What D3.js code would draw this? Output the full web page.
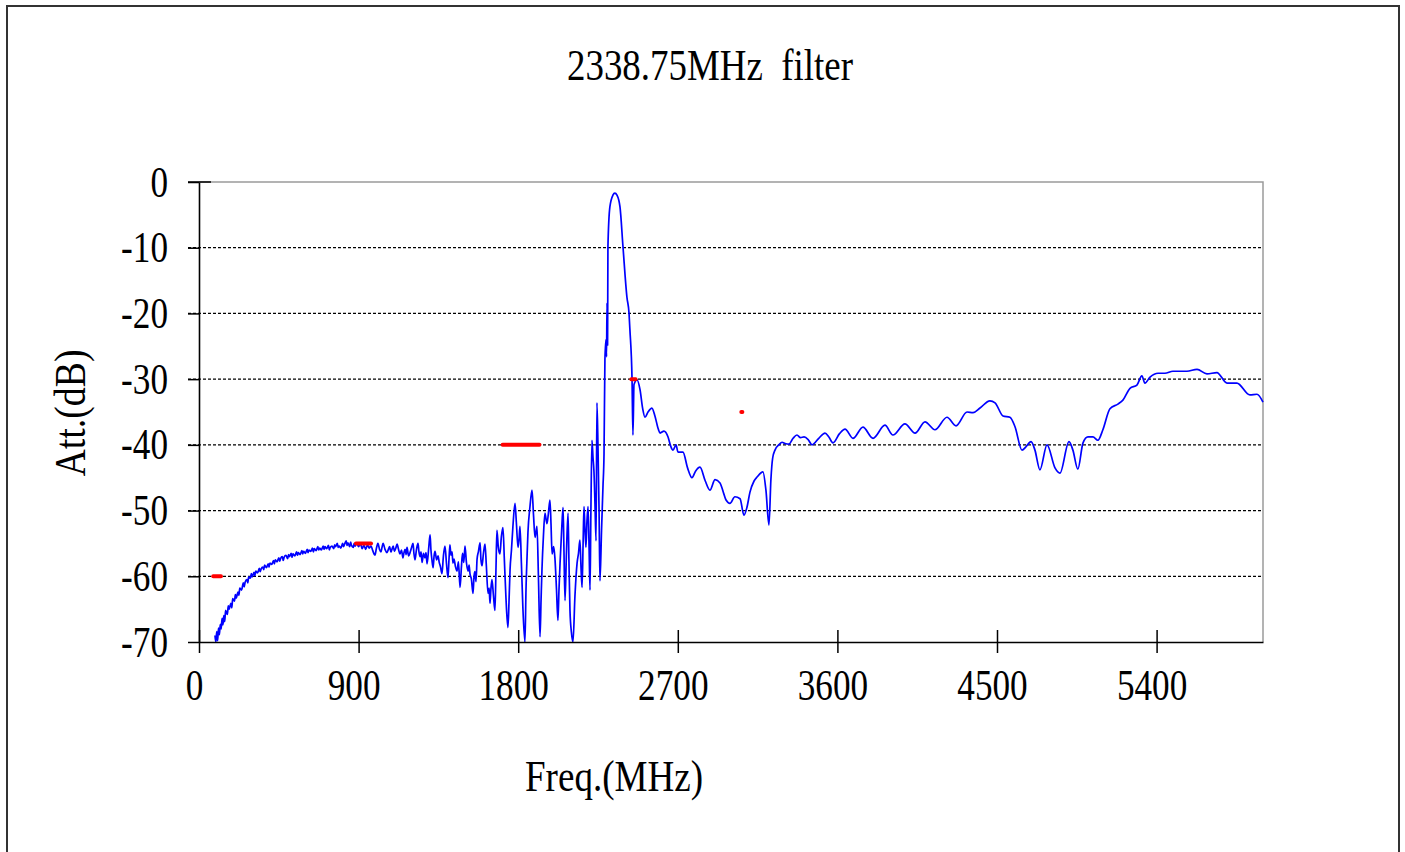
<!DOCTYPE html>
<html><head><meta charset="utf-8">
<script src="https://cdn.jsdelivr.net/npm/d3@7"></script>
<style>html,body{margin:0;padding:0;background:#fff;} svg{display:block}</style>
</head><body>
<svg id="c" width="1405" height="852"></svg>
<script>
const chartTitle = "2338.75MHz  filter";
const xTitle = "Freq.(MHz)";
const yTitle = "Att.(dB)";
const xTicks = [0, 900, 1800, 2700, 3600, 4500, 5400];
const yTicks = [0, -10, -20, -30, -40, -50, -60, -70];
const xDomain = [0, 6000];
const yDomain = [-70, 0];

// measured response: [frequency MHz, attenuation dB]
const trace = [
[90,-69.0],[95,-70.0],[100,-68.4],[105,-69.8],[110,-67.9],[115,-68.9],[120,-67.3],[125,-68.0],[130,-66.4],[135,-67.4],
[140,-66.0],[145,-66.9],[150,-65.2],[160,-65.8],[165,-64.5],[170,-65.0],[180,-64.1],[185,-64.8],[190,-63.4],[200,-63.8],
[205,-62.8],[210,-63.3],[220,-62.4],[225,-62.9],[230,-61.8],[240,-62.1],[250,-61.0],[255,-61.6],[260,-60.9],[270,-60.5],
[275,-61.0],[280,-60.1],[290,-60.3],[295,-59.6],[300,-60.1],[310,-59.4],[315,-59.9],[320,-59.2],[330,-59.5],[340,-58.8],
[345,-59.3],[350,-58.9],[360,-58.6],[365,-59.0],[370,-58.3],[380,-58.7],[390,-58.1],[395,-58.6],[400,-58.0],[410,-58.2],
[420,-57.6],[425,-58.1],[430,-57.5],[440,-57.8],[450,-57.2],[455,-57.7],[460,-57.3],[470,-57.0],[475,-57.6],[480,-57.1],
[490,-56.8],[500,-57.3],[505,-56.7],[510,-57.0],[520,-56.5],[525,-57.1],[530,-56.6],[540,-56.9],[550,-56.3],[555,-56.8],
[560,-56.4],[570,-56.7],[580,-56.1],[585,-56.6],[590,-56.2],[600,-56.5],[610,-55.9],[615,-56.4],[620,-56.0],[630,-56.2],
[640,-55.7],[645,-56.3],[650,-55.8],[660,-56.1],[670,-55.5],[675,-56.0],[680,-55.7],[690,-56.0],[700,-55.4],[705,-55.9],
[710,-55.5],[720,-55.8],[730,-55.3],[735,-56.0],[740,-55.6],[750,-55.4],[760,-55.8],[765,-55.2],[770,-55.5],[780,-55.0],
[785,-55.6],[790,-55.4],[800,-55.7],[810,-55.0],[815,-55.5],[820,-55.2],[830,-54.6],[835,-55.3],[840,-54.9],[850,-55.5],
[855,-54.8],[860,-55.3],[870,-55.6],[875,-55.0],[880,-55.4],[890,-54.9],[900,-55.5],
[910,-55.0],[920,-55.8],[930,-55.3],[940,-55.9],[950,-55.2],[960,-55.7],[970,-55.4],[980,-56.1],[992,-56.8],[1000,-55.8],
[1009,-55.0],[1018,-55.9],[1026,-56.3],[1032,-55.6],[1038,-55.0],[1049,-55.9],[1060,-56.4],[1068,-55.9],[1075,-55.5],[1082,-56.3],
[1088,-55.9],[1095,-55.4],[1102,-56.2],[1110,-55.7],[1117,-55.1],[1125,-55.9],[1133,-56.6],[1142,-56.0],[1150,-57.2],[1156,-56.4],
[1162,-55.9],[1168,-56.7],[1173,-55.6],[1182,-56.9],[1190,-56.4],[1198,-55.7],[1207,-55.0],[1212,-56.5],[1218,-57.5],[1226,-56.0],
[1235,-55.0],[1240,-56.2],[1246,-57.0],[1252,-56.3],[1258,-57.9],[1266,-56.5],[1274,-57.2],[1280,-56.4],[1286,-58.1],[1296,-55.5],
[1303,-53.7],[1308,-56.0],[1314,-57.6],[1320,-58.7],[1326,-56.8],[1331,-56.2],[1340,-57.5],[1348,-56.9],[1354,-57.8],[1362,-58.6],
[1370,-59.6],[1378,-57.0],[1387,-55.4],[1396,-58.2],[1404,-60.2],[1410,-57.3],[1415,-55.2],[1421,-56.8],[1427,-56.3],[1432,-58.0],
[1438,-57.4],[1446,-58.5],[1455,-59.2],[1463,-57.8],[1472,-61.7],[1480,-58.5],[1486,-56.5],[1493,-57.9],[1500,-55.4],[1508,-57.9],
[1517,-59.2],[1523,-58.3],[1528,-59.6],[1536,-60.4],[1545,-62.6],[1551,-60.0],[1556,-59.3],[1562,-60.8],[1568,-57.4],[1576,-56.2],
[1585,-54.9],[1590,-57.5],[1596,-58.4],[1604,-56.5],[1613,-55.1],[1620,-58.2],[1630,-62.6],[1636,-61.8],[1641,-64.1],[1646,-62.0],
[1652,-60.5],[1660,-62.8],[1669,-65.2],[1675,-58.5],[1680,-53.0],[1688,-55.6],[1697,-56.6],[1705,-54.0],[1714,-52.6],[1722,-57.5],
[1731,-63.3],[1742,-67.8],[1748,-64.0],[1754,-59.0],[1762,-56.0],[1770,-52.5],[1782,-48.9],[1790,-52.0],[1799,-55.6],[1805,-54.3],
[1810,-52.4],[1818,-58.0],[1826,-64.5],[1838,-70.0],[1844,-62.0],[1850,-57.0],[1855,-53.3],[1866,-49.5],[1878,-46.9],[1886,-50.5],
[1895,-54.1],[1900,-53.3],[1906,-52.4],[1914,-60.0],[1923,-69.2],[1929,-63.5],[1934,-59.0],[1942,-54.0],[1951,-50.4],[1962,-52.0],
[1970,-50.5],[1979,-48.4],[1985,-52.0],[1991,-56.6],[2000,-55.5],[2007,-57.2],[2016,-62.0],[2024,-66.7],[2030,-62.0],[2036,-58.0],
[2045,-53.0],[2053,-49.5],[2058,-56.0],[2064,-63.7],[2072,-56.5],[2081,-50.4],[2086,-57.5],[2092,-65.2],[2100,-68.5],[2109,-70.0],
[2120,-63.0],[2132,-58.0],[2140,-56.5],[2148,-54.5],[2154,-58.5],[2160,-61.7],[2166,-55.0],[2171,-49.4],[2176,-52.5],[2182,-55.6],
[2188,-51.5],[2194,-49.4],[2200,-56.0],[2205,-62.1],[2210,-50.0],[2216,-39.3],[2222,-42.0],[2227,-43.9],[2233,-49.0],[2239,-54.6],
[2244,-33.6],[2250,-40.3],[2256,-50.0],[2261,-60.7],[2270,-53.0],[2278,-46.4],[2284,-41.3],[2289,-27.1],[2295,-24.0],[2298,-26.6],
[2301,-18.4],[2304,-24.8],[2306,-9.9],[2317,-3.8],[2334,-2.0],[2345,-1.7],[2357,-2.0],[2374,-3.8],[2391,-9.9],[2413,-17.5],
[2425,-20.0],[2430,-22.5],[2442,-30.1],[2447,-38.5],[2453,-30.8],[2470,-30.1],[2487,-31.6],[2502,-34.5],[2515,-35.8],[2532,-35.0],
[2554,-34.4],[2571,-35.6],[2590,-37.6],[2600,-38.2],[2622,-37.9],[2645,-38.8],[2660,-40.2],[2673,-40.8],[2690,-40.0],[2701,-41.1],
[2729,-41.1],[2755,-43.5],[2780,-45.0],[2800,-44.0],[2825,-43.4],[2855,-45.5],[2881,-46.9],[2910,-45.3],[2938,-45.8],[2960,-47.5],
[2972,-48.4],[2994,-48.9],[3022,-47.9],[3051,-48.2],[3073,-50.7],[3090,-49.5],[3107,-47.2],[3130,-45.5],[3147,-44.9],[3180,-44.1],
[3197,-46.9],[3214,-52.2],[3225,-45.3],[3235,-42.0],[3248,-40.8],[3270,-40.0],[3288,-39.6],[3305,-39.8],[3327,-39.9],[3350,-39.0],
[3372,-38.5],[3392,-38.9],[3412,-38.8],[3435,-39.2],[3457,-40.0],[3495,-39.0],[3530,-38.2],[3552,-38.8],[3575,-39.7],[3612,-38.3],
[3643,-37.6],[3688,-39.0],[3744,-37.3],[3801,-39.0],[3868,-37.0],[3913,-38.5],[3981,-36.8],[4038,-38.2],[4094,-36.5],[4150,-37.7],
[4218,-35.8],[4269,-37.1],[4331,-35.0],[4365,-35.1],[4404,-34.4],[4460,-33.3],[4489,-33.6],[4534,-35.6],[4573,-35.8],[4601,-37.2],
[4641,-40.8],[4663,-40.3],[4692,-39.5],[4714,-40.8],[4742,-43.8],[4782,-40.0],[4827,-43.5],[4855,-44.3],[4906,-39.5],[4928,-40.8],
[4956,-43.7],[4985,-39.7],[5013,-38.8],[5041,-38.8],[5069,-39.3],[5097,-37.7],[5137,-34.5],[5182,-33.8],[5210,-33.2],[5250,-31.4],
[5289,-30.9],[5317,-29.5],[5334,-30.6],[5363,-29.7],[5408,-29.1],[5447,-29.1],[5492,-28.8],[5571,-28.8],[5628,-28.5],[5684,-29.2],
[5740,-29.0],[5797,-30.6],[5853,-30.6],[5926,-32.4],[5966,-32.3],[6000,-33.5]
];

// specification marks: [start MHz, end MHz, dB]
const specLimits = [
[80, 124, -60], [885, 970, -55], [1712, 1920, -40], [2438, 2462, -30], [3058, 3064, -35]
];

const svg = d3.select("#c");
const M = {left: 199, top: 182, right: 1263, bottom: 642};
const x = d3.scaleLinear().domain(xDomain).range([M.left, M.right]);
const y = d3.scaleLinear().domain(yDomain).range([M.bottom, M.top]);
const FONT = "'Liberation Serif','Times New Roman',serif";
const FS = 44;
const SQ = 0.8;
const fmt = d => String(d);

function squeeze(sel, k) {
  sel.each(function () {
    const w = this.getComputedTextLength();
    this.setAttribute("textLength", w * k);
    this.setAttribute("lengthAdjust", "spacingAndGlyphs");
  });
}

// outer frame
svg.append("rect").attr("x", 7).attr("y", 6).attr("width", 1392).attr("height", 900)
  .attr("fill", "none").attr("stroke", "#333").attr("stroke-width", 2);

// plot frame (gray top/right)
svg.append("path")
  .attr("d", `M${x(xDomain[0])},${y(0)}H${x(xDomain[1])}V${y(-70)}`)
  .attr("fill", "none").attr("stroke", "#9a9a9a").attr("stroke-width", 1.5);

// gridlines
svg.append("g").selectAll("line").data(yTicks.filter(d => d !== 0 && d !== -70)).join("line")
  .attr("x1", M.left - 11).attr("x2", x(xDomain[1]))
  .attr("y1", d => y(d)).attr("y2", d => y(d))
  .attr("stroke", "#000").attr("stroke-width", 1.2).attr("stroke-dasharray", "3,2");

// curve
const line = d3.line().x(d => x(d[0])).y(d => y(d[1])).curve(d3.curveMonotoneX);
svg.append("path").datum(trace).attr("d", line)
  .attr("fill", "none").attr("stroke", "#0000ff").attr("stroke-width", 1.7)
  .attr("stroke-linejoin", "round");

// spec marks
svg.append("g").selectAll("line").data(specLimits).join("line")
  .attr("x1", d => x(d[0])).attr("x2", d => x(d[1]))
  .attr("y1", d => y(d[2])).attr("y2", d => y(d[2]))
  .attr("stroke", "#ff0000").attr("stroke-width", 4).attr("stroke-linecap", "round");

// x axis
const gx = svg.append("g").attr("transform", `translate(0,${M.bottom})`)
  .call(d3.axisBottom(x).tickValues(xTicks).tickFormat(fmt).tickSize(11).tickPadding(16).tickSizeOuter(0));
gx.select(".domain").attr("stroke", "#000").attr("stroke-width", 1.6);
gx.selectAll(".tick line").attr("y1", -12).attr("y2", 11).attr("stroke", "#000").attr("stroke-width", 1.5);
gx.selectAll(".tick text").attr("font-family", FONT).attr("font-size", FS).attr("fill", "#000").attr("dx", -5);
squeeze(gx.selectAll(".tick text"), SQ);

// y axis
const gy = svg.append("g").attr("transform", `translate(${M.left},0)`)
  .call(d3.axisLeft(y).tickValues(yTicks).tickFormat(fmt).tickSize(11).tickPadding(20).tickSizeOuter(0));
gy.select(".domain").attr("stroke", "#000").attr("stroke-width", 1.6);
gy.selectAll(".tick line").attr("stroke", "#000").attr("stroke-width", 1.5);
gy.selectAll(".tick text").attr("font-family", FONT).attr("font-size", FS).attr("fill", "#000");
squeeze(gy.selectAll(".tick text"), SQ);
// top tick extension
svg.append("line").attr("x1", M.left - 11).attr("x2", M.left + 12).attr("y1", y(0)).attr("y2", y(0))
  .attr("stroke", "#000").attr("stroke-width", 1.5);

// titles
const t = svg.append("text").attr("x", 710).attr("y", 80).attr("text-anchor", "middle")
  .attr("font-family", FONT).attr("font-size", FS).attr("fill", "#000")
  .style("white-space", "pre").text(chartTitle);
t.attr("textLength", 286).attr("lengthAdjust", "spacingAndGlyphs");

svg.append("text").attr("x", 614).attr("y", 791).attr("text-anchor", "middle")
  .attr("font-family", FONT).attr("font-size", FS).attr("fill", "#000")
  .attr("textLength", 178).attr("lengthAdjust", "spacingAndGlyphs").text(xTitle);

svg.append("text").attr("transform", "translate(85,413) rotate(-90)").attr("text-anchor", "middle")
  .attr("font-family", FONT).attr("font-size", FS).attr("fill", "#000")
  .attr("textLength", 127).attr("lengthAdjust", "spacingAndGlyphs").text(yTitle);
</script>
</body></html>
